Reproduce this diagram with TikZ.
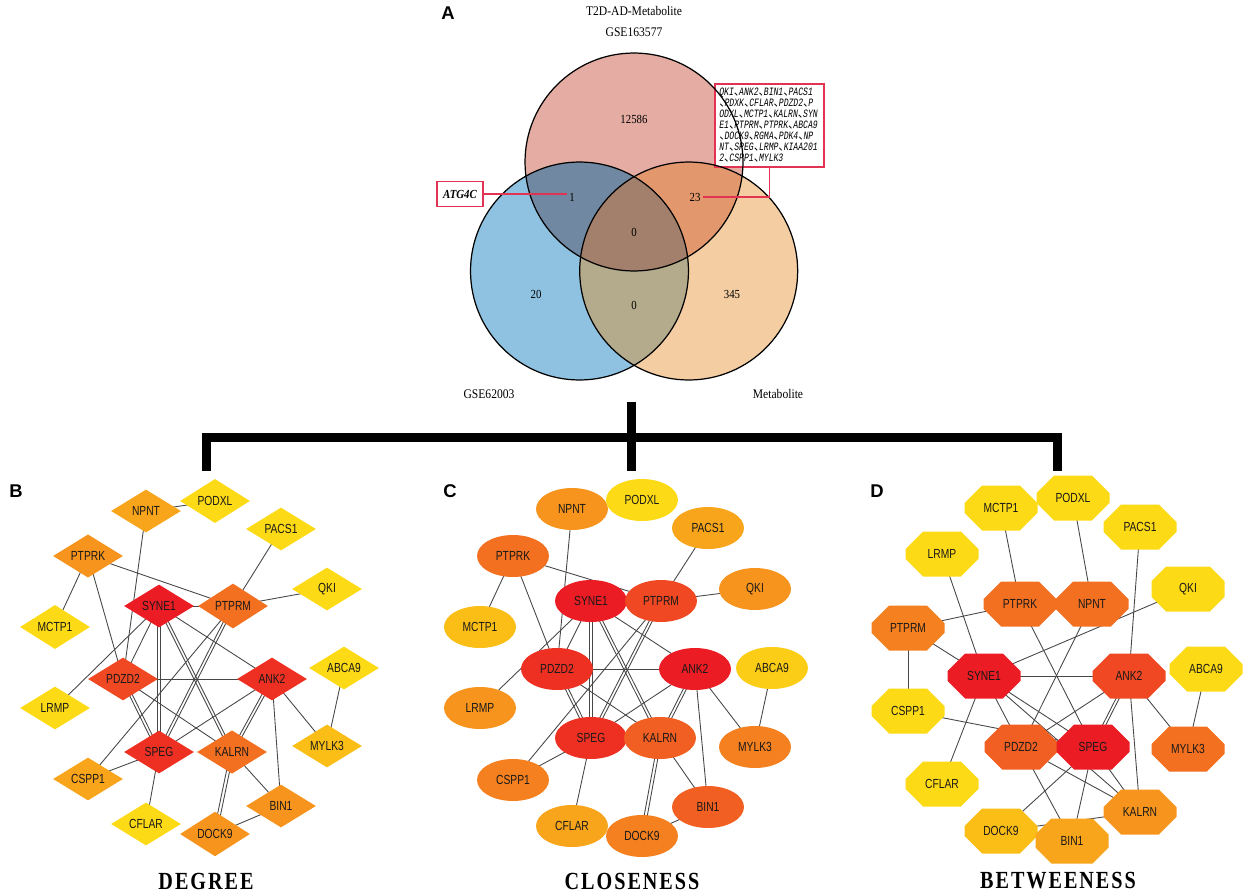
\documentclass[tikz,border=0pt]{standalone}
\usepackage{fontspec}
\setmainfont{Liberation Serif}
\newfontfamily\labfont[FakeStretch=0.78]{Liberation Sans}
\newfontfamily\panfont{Liberation Sans}
\newfontfamily\vennfont[FakeStretch=0.88]{Liberation Serif}
\newfontfamily\headfont[FakeStretch=0.82,LetterSpace=8]{Liberation Serif}
\newfontfamily\genefont[FakeStretch=0.72]{Liberation Mono}
\newfontfamily\cjk{Noto Sans CJK SC}
\usepackage{tikz}
\usetikzlibrary{shapes.geometric, shapes.misc, positioning, backgrounds}
\definecolor{boxred}{RGB}{226, 52, 82}
\definecolor{vtop}{RGB}{228, 172, 162}
\definecolor{vleft}{RGB}{142, 194, 224}
\definecolor{vright}{RGB}{244, 206, 162}
\definecolor{vtl}{RGB}{112, 136, 162}
\definecolor{vtr}{RGB}{226, 152, 108}
\definecolor{vlr}{RGB}{180, 170, 140}
\definecolor{vall}{RGB}{163, 128, 108}
\definecolor{r1}{RGB}{236, 28, 36}
\definecolor{r2}{RGB}{238, 48, 35}
\definecolor{r3}{RGB}{240, 72, 35}
\definecolor{r4}{RGB}{242, 95, 34}
\definecolor{o1}{RGB}{243, 112, 33}
\definecolor{o2}{RGB}{245, 128, 32}
\definecolor{o3}{RGB}{247, 148, 29}
\definecolor{o4}{RGB}{248, 165, 27}
\definecolor{y1}{RGB}{251, 190, 22}
\definecolor{y2}{RGB}{252, 205, 22}
\definecolor{y3}{RGB}{253, 218, 22}
\newcommand\dun{\makebox[3pt][l]{\cjk\upshape 、}}
\newcommand\twin[2]{\draw[link] ([xshift=-0.9pt]#1.center) -- ([xshift=-0.9pt]#2.center);
  \draw[link] ([xshift=0.9pt]#1.center) -- ([xshift=0.9pt]#2.center);}
\def\vennr{2.18cm}

\begin{document}
\begin{tikzpicture}[x=0.02cm, y=-0.02cm,
  link/.style={draw=black!72, line width=0.5pt},
  net/.style={inner sep=0pt, text=black!90, font=\labfont\fontsize{7.5}{8}\selectfont},
  dia/.style={net, diamond, minimum width=1.4cm, minimum height=0.86cm},
  ell/.style={net, ellipse, minimum width=1.44cm, minimum height=0.84cm},
  oct/.style={net, chamfered rectangle, chamfered rectangle xsep=0.34cm, chamfered rectangle ysep=0.26cm, minimum width=1.46cm, minimum height=0.9cm},
  num/.style={inner sep=1pt, font=\vennfont\fontsize{7}{8}\selectfont},
  venn/.style={inner sep=0pt, font=\vennfont\fontsize{7.5}{9}\selectfont},
  panel/.style={inner sep=0pt, font=\panfont\bfseries\fontsize{10.5}{12}\selectfont},
  heading/.style={inner sep=0pt, font=\headfont\bfseries\fontsize{14}{16}\selectfont},
  redline/.style={draw=boxred, line width=0.7pt}]
  \useasboundingbox (0,0) rectangle (1248,896);

  \coordinate (vt) at (634,162);
  \coordinate (vl) at (579.5,271);
  \coordinate (vr) at (688.7,271);
  \fill[vtop] (vt) circle[radius=\vennr];
  \fill[vleft] (vl) circle[radius=\vennr];
  \fill[vright] (vr) circle[radius=\vennr];
  \begin{scope}
    \clip (vt) circle[radius=\vennr];
    \fill[vtl] (vl) circle[radius=\vennr];
    \fill[vtr] (vr) circle[radius=\vennr];
  \end{scope}
  \begin{scope}
    \clip (vl) circle[radius=\vennr];
    \fill[vlr] (vr) circle[radius=\vennr];
    \clip (vt) circle[radius=\vennr];
    \fill[vall] (vr) circle[radius=\vennr];
  \end{scope}
  \node[redline, fill=white, minimum width=2.18cm, minimum height=1.66cm, inner sep=0pt] (genebox) at (769.5,125.5) {};
  \foreach \k in {vt,vl,vr} {\draw[line width=0.7pt] (\k) circle[radius=\vennr];}
  \node[anchor=north west, inner sep=0pt, align=left, font=\genefont\itshape\fontsize{6.4}{6.24}\selectfont] (genetxt) at (719,88)
    {QKI\dun ANK2\dun BIN1\dun PACS1\\ \dun PDXK\dun CFLAR\dun PDZD2\dun P\\ ODXL\dun MCTP1\dun KALRN\dun SYN\\ E1\dun PTPRM\dun PTPRK\dun ABCA9\\ \dun DOCK9\dun RGMA\dun PDK4\dun NP\\ NT\dun SPEG\dun LRMP\dun KIAA201\\ 2\dun CSPP1\dun MYLK3};

  \node[panel] (lA) at (448,13) {A};
  \node[venn] (vtitle) at (634,11) {T2D-AD-Metabolite};
  \node[venn] (vset1) at (634,32) {GSE163577};
  \node[venn] (vset2) at (489,394) {GSE62003};
  \node[venn] (vset3) at (778,394) {Metabolite};
  \node[num] (n12586) at (634,119) {12586};
  \node[num] (n1) at (572,197) {1};
  \node[num] (n23) at (695,197) {23};
  \node[num] (n0a) at (634,232) {0};
  \node[num] (n20) at (536,294) {20};
  \node[num] (n345) at (732,294) {345};
  \node[num] (n0b) at (634,305) {0};
  \node[redline, fill=white, minimum width=0.92cm, minimum height=0.5cm, inner sep=0pt, font=\vennfont\bfseries\itshape\fontsize{7}{8}\selectfont] (atg) at (460,194) {ATG4C};
  \draw[redline] (atg.east) -- (atg.east -| n1.west);
  \draw[redline] (n23.east) -- (n23.east -| genebox.south) -- (genebox.south);

  \coordinate (brB) at (206,471);
  \coordinate (brC) at (631.5,471);
  \coordinate (brD) at (1057.5,471);
  \coordinate (brtop) at (631.5,402);
  \draw[line width=0.18cm] (brB) -- ++(0,-34) -| (brD);
  \draw[line width=0.18cm] (brtop) -- (brC);

  \node[panel] (lB) at (16,491) {B};
  \node[panel] (lC) at (450,491) {C};
  \node[panel] (lD) at (877,491) {D};

  \foreach \n/\x/\y/\c in {NPNT/146/511/o4, PODXL/215/501/y3, PACS1/281/529/y3, PTPRK/88/556/o3, QKI/327/589/y3,
      SYNE1/159/606/r1, PTPRM/233/606/o1, MCTP1/55/627/y3, ABCA9/344/668/y3, PDZD2/123/679/r3, ANK2/272/679/r2,
      LRMP/55/708/y3, MYLK3/327/746/y1, SPEG/159/752/r2, KALRN/232/752/o1, CSPP1/88/779/o4, BIN1/281/806/o3,
      CFLAR/146/824/y3, DOCK9/215/834/o3}
    {\node[dia, fill=\c] (b\n) at (\x,\y) {\n};}
  \foreach \n/\x/\y/\c in {NPNT/572/509/o3, PODXL/642/500/y3, PACS1/708/528/o4, PTPRK/513/556/o1, QKI/755/589/o3,
      SYNE1/591/601/r1, PTPRM/661/601/r3, MCTP1/480/627/y1, ABCA9/772/668/y2, PDZD2/557/669/r2, ANK2/695/669/r1,
      LRMP/480/708/o3, MYLK3/755/747/o2, SPEG/591/738/r2, KALRN/660/738/r4, CSPP1/513/780/o2, BIN1/708/807/r4,
      CFLAR/572/826/o4, DOCK9/642/836/o2}
    {\node[ell, fill=\c] (c\n) at (\x,\y) {\n};}
  \foreach \n/\x/\y/\c in {MCTP1/1001/508/y3, PODXL/1073/498/y3, PACS1/1140/527/y3, LRMP/942/554/y3, QKI/1188/589/y3,
      PTPRK/1020/604/o1, NPNT/1092/604/o1, PTPRM/908/628/o2, SYNE1/984/676/r1, ANK2/1129/676/r3, ABCA9/1206/669/y3,
      CSPP1/908/711/y3, PDZD2/1021/747/r4, SPEG/1093/747/r1, MYLK3/1188/749/o1, CFLAR/942/784/y3, KALRN/1140/812/o3,
      DOCK9/1001/831/y1, BIN1/1072/841/o4}
    {\node[oct, fill=\c] (d\n) at (\x,\y) {\n};}

  \begin{scope}[on background layer]
    \foreach \p in {b,c} {
      \foreach \ea/\eb in {NPNT/PODXL, NPNT/PDZD2, PACS1/PTPRM, PTPRK/MCTP1, PTPRK/PTPRM, PTPRK/PDZD2, QKI/PTPRM,
          SYNE1/PTPRM, SYNE1/LRMP, SYNE1/PDZD2, SYNE1/ANK2, PTPRM/CSPP1, PDZD2/ANK2, PDZD2/KALRN, ANK2/SPEG,
          ANK2/BIN1, ANK2/MYLK3, ABCA9/MYLK3, KALRN/BIN1, BIN1/DOCK9, SPEG/CSPP1, SPEG/CFLAR}
        {\draw[link] (\p\ea.center) -- (\p\eb.center);}
      \foreach \ea/\eb in {SYNE1/SPEG, SYNE1/KALRN, PTPRM/SPEG, PDZD2/SPEG, ANK2/KALRN, KALRN/DOCK9}
        {\twin{\p\ea}{\p\eb}}
    }
    \foreach \ea/\eb in {MCTP1/PTPRK, PODXL/NPNT, PACS1/ANK2, LRMP/SYNE1, QKI/SYNE1, PTPRM/PTPRK, PTPRM/SYNE1,
        PTPRM/CSPP1, PTPRK/SPEG, NPNT/PDZD2, SYNE1/ANK2, SYNE1/PDZD2, SYNE1/SPEG, SYNE1/KALRN, SYNE1/CFLAR,
        CSPP1/SPEG, ANK2/PDZD2, ANK2/MYLK3, ANK2/KALRN, ABCA9/MYLK3, PDZD2/KALRN, PDZD2/BIN1, SPEG/DOCK9,
        SPEG/BIN1, SPEG/KALRN, DOCK9/KALRN}
      {\draw[link] (d\ea.center) -- (d\eb.center);}
    \twin{dANK2}{dSPEG}
  \end{scope}

  \node[heading] (hB) at (206,881) {DEGREE};
  \node[heading] (hC) at (632,881) {CLOSENESS};
  \node[heading] (hD) at (1058,881) {BETWEENESS};
\end{tikzpicture}
\end{document}
